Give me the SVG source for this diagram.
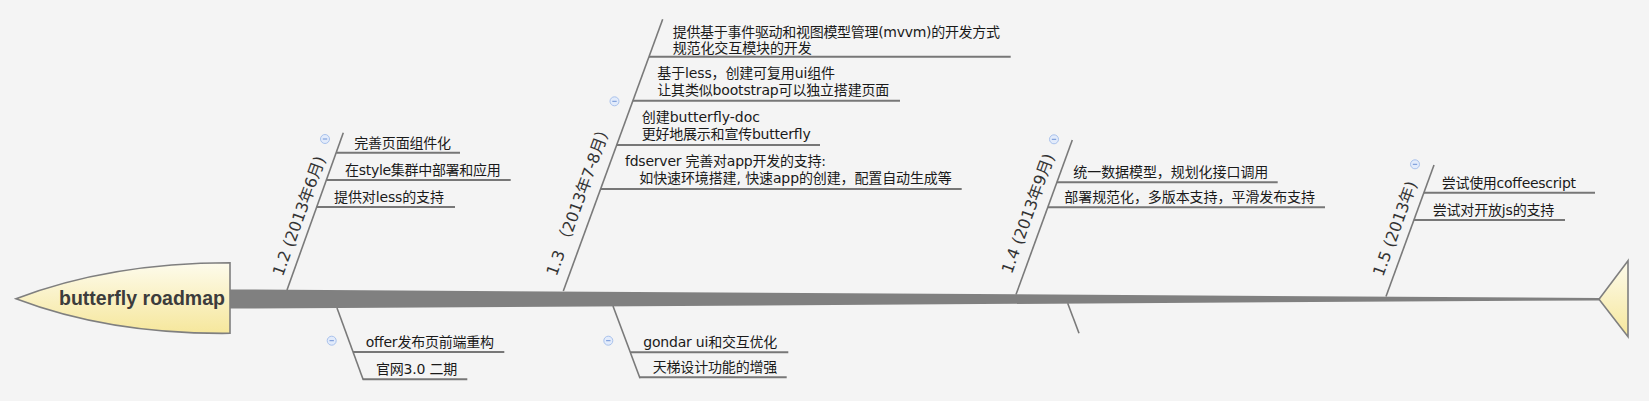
<svg xmlns="http://www.w3.org/2000/svg" width="1649" height="401" viewBox="0 0 1649 401">
<defs>
<linearGradient id="yel" x1="0" y1="0" x2="0" y2="1"><stop offset="0" stop-color="#fdfbec"/><stop offset="1" stop-color="#f6e79c"/></linearGradient>
<linearGradient id="yel2" x1="0" y1="0" x2="0" y2="1"><stop offset="0" stop-color="#fdfbec"/><stop offset="1" stop-color="#f6e79c"/></linearGradient>
<g id="minus"><circle r="4.5" fill="#e2ebfb" stroke="#a9c2ec" stroke-width="1"/><line x1="-2.2" y1="0" x2="2.2" y2="0" stroke="#6f93d6" stroke-width="1"/></g>
</defs>
<style>
.t{font-family:"DejaVu Sans","Noto Sans CJK SC",sans-serif;font-size:14px;fill:#1a1a1a}
.lb{font-family:"DejaVu Sans","Noto Sans CJK SC",sans-serif;font-size:16px;fill:#333}
.ul{stroke:#777;stroke-width:2;fill:none}
.br{stroke:#7a7a7a;stroke-width:1.6;fill:none}
</style>
<rect width="1649" height="401" fill="#f4f4f4"/>

<g id="connectors">
<polygon points="225,289.4 1599,298 1599,300.4 225,308.6" fill="#808080"/>
<line class="br" x1="287" y1="290" x2="343.3" y2="132.7"/>
<line class="br" x1="337" y1="308" x2="363.3" y2="380"/>
<line class="br" x1="563.3" y1="291" x2="662.7" y2="19.3"/>
<line class="br" x1="613" y1="306" x2="640" y2="378.3"/>
<line class="br" x1="1016" y1="294.5" x2="1072.3" y2="140"/>
<line class="br" x1="1067.7" y1="303.3" x2="1079" y2="333.3"/>
<line class="br" x1="1386" y1="296.5" x2="1434" y2="165"/>
</g>

<g id="root">
<path d="M16,298.7 Q110,262.7 230,262.7 L230,333.3 Q110,334.5 16,298.7 Z" fill="url(#yel)" stroke="#7f7f7f" stroke-width="1.6"/>
<text x="225" y="305" text-anchor="end" textLength="166" lengthAdjust="spacingAndGlyphs" style="font-family:'Liberation Sans',Arial,sans-serif;font-size:19.5px;font-weight:bold;fill:#3c3c3c">butterfly roadmap</text>
</g>

<g id="tail">
<polygon points="1628,260.7 1599,299.3 1628,336.7" fill="url(#yel2)" stroke="#7f7f7f" stroke-width="1.6"/>
</g>

<g id="v12">
<text class="lb" transform="translate(299,216) rotate(-70)" text-anchor="middle" dominant-baseline="central">1.2 (2013年6月)</text>
<use href="#minus" x="325" y="139"/>
</g>
<g id="v12-a"><line class="ul" x1="336.2" y1="152.7" x2="460" y2="152.7"/><text class="t" x="354.3" y="148" textLength="96.7">完善页面组件化</text></g>
<g id="v12-b"><line class="ul" x1="326.4" y1="180" x2="510.7" y2="180"/><text class="t" x="345" y="175.2" textLength="155.7">在style集群中部署和应用</text></g>
<g id="v12-c"><line class="ul" x1="316.7" y1="207" x2="455" y2="207"/><text class="t" x="334" y="202.2" textLength="110">提供对less的支持</text></g>

<g id="v12-bottom"><use href="#minus" x="331.7" y="340.7"/></g>
<g id="v12-d"><line class="ul" x1="353" y1="352" x2="504.3" y2="352"/><text class="t" x="365.7" y="347" textLength="128.3">offer发布页前端重构</text></g>
<g id="v12-e"><line class="ul" x1="363" y1="379.3" x2="467.3" y2="379.3"/><text class="t" x="376" y="374" textLength="81.3">官网3.0 二期</text></g>

<g id="v13">
<text class="lb" transform="translate(579,199) rotate(-70)" text-anchor="middle" dominant-baseline="central">1.3 （2013年7-8月）</text>
<use href="#minus" x="614.5" y="101.3"/>
</g>
<g id="v13-a"><line class="ul" x1="649" y1="56.7" x2="1010.7" y2="56.7"/>
<text class="t" x="672.7" y="36.5" textLength="327.3">提供基于事件驱动和视图模型管理(mvvm)的开发方式</text>
<text class="t" x="672.7" y="53" textLength="139">规范化交互模块的开发</text></g>
<g id="v13-b"><line class="ul" x1="632.8" y1="100.7" x2="900" y2="100.7"/>
<text class="t" x="657.3" y="78" textLength="177.7">基于less，创建可复用ui组件</text>
<text class="t" x="657.3" y="95" textLength="232">让其类似bootstrap可以独立搭建页面</text></g>
<g id="v13-c"><line class="ul" x1="616.6" y1="145" x2="820" y2="145"/>
<text class="t" x="641.7" y="122" textLength="118.3">创建butterfly-doc</text>
<text class="t" x="641.7" y="139" textLength="169">更好地展示和宣传butterfly</text></g>
<g id="v13-d"><line class="ul" x1="600.5" y1="189" x2="961.7" y2="189"/>
<text class="t" x="625" y="166" textLength="201">fdserver 完善对app开发的支持:</text>
<text class="t" x="639.3" y="183" textLength="312.4">如快速环境搭建, 快速app的创建，配置自动生成等</text></g>

<g id="v13-bottom"><use href="#minus" x="608.3" y="340.7"/></g>
<g id="v13-e"><line class="ul" x1="630.2" y1="352.3" x2="788.3" y2="352.3"/><text class="t" x="643.3" y="347.3" textLength="134">gondar ui和交互优化</text></g>
<g id="v13-f"><line class="ul" x1="639.6" y1="377.3" x2="786.7" y2="377.3"/><text class="t" x="652.7" y="372.3" textLength="124.6">天梯设计功能的增强</text></g>

<g id="v14">
<text class="lb" transform="translate(1028,213.5) rotate(-70)" text-anchor="middle" dominant-baseline="central">1.4 (2013年9月)</text>
<use href="#minus" x="1054" y="139.3"/>
</g>
<g id="v14-a"><line class="ul" x1="1056.9" y1="182.3" x2="1277.7" y2="182.3"/><text class="t" x="1073.3" y="177.3" textLength="195">统一数据模型，规划化接口调用</text></g>
<g id="v14-b"><line class="ul" x1="1047.9" y1="207.3" x2="1325" y2="207.3"/><text class="t" x="1064.3" y="202.3" textLength="250.7">部署规范化，多版本支持，平滑发布支持</text></g>

<g id="v15">
<text class="lb" transform="translate(1395,228.5) rotate(-70)" text-anchor="middle" dominant-baseline="central">1.5 (2013年)</text>
<use href="#minus" x="1415" y="164.3"/>
</g>
<g id="v15-a"><line class="ul" x1="1423.8" y1="192.7" x2="1595" y2="192.7"/><text class="t" x="1441.7" y="187.7" textLength="134.3">尝试使用coffeescript</text></g>
<g id="v15-b"><line class="ul" x1="1413.8" y1="220" x2="1565" y2="220"/><text class="t" x="1432.7" y="215" textLength="121.6">尝试对开放js的支持</text></g>
</svg>
